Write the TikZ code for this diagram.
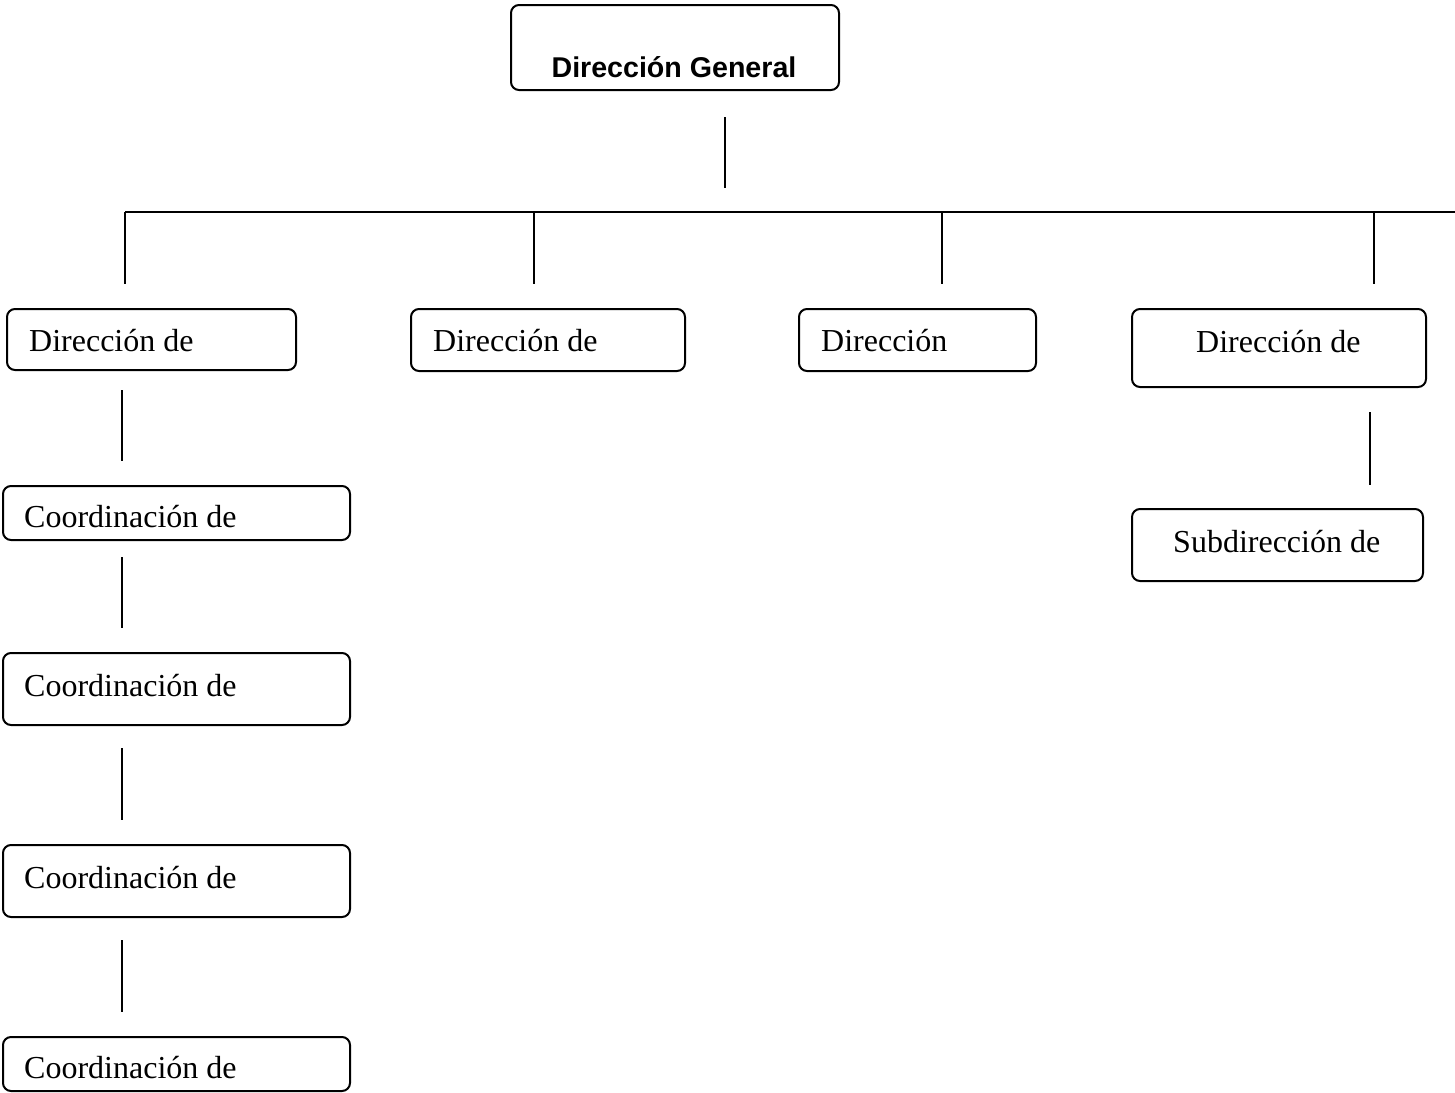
\documentclass[tikz,border=0pt]{standalone}
\usepackage{fontspec}
\setmainfont{Liberation Serif}
\newfontfamily\arialf{Liberation Sans}
\tikzset{
  orgbox/.style={draw, line width=2pt, rounded corners=8pt, inner sep=0pt, anchor=north west},
  lbl/.style={anchor=base west, inner sep=0pt, font=\fontsize{32}{36}\selectfont},
  conn/.style={line width=2pt},
}
\begin{document}
\begin{tikzpicture}[x=1pt,y=-1pt]
\useasboundingbox (0,0) rectangle (1455,1092);
% top box
\node[orgbox, minimum width=328pt, minimum height=85pt] (dg) at (510,4) {};
\node[anchor=base, inner sep=0pt, font=\arialf\bfseries\fontsize{28.6}{32}\selectfont] (dgt) at (674,77) {Dirección General};
% directions
\node[orgbox, minimum width=289pt, minimum height=61pt] (d1) at (6,308) {};
\node[lbl] (d1t) at (29,351) {Dirección de};
\node[orgbox, minimum width=274pt, minimum height=62pt] (d2) at (410,308) {};
\node[lbl] (d2t) at (433,351) {Dirección de};
\node[orgbox, minimum width=237pt, minimum height=62pt] (d3) at (798,308) {};
\node[lbl] (d3t) at (821,351) {Dirección};
\node[orgbox, minimum width=294pt, minimum height=78pt] (d4) at (1131,308) {};
\node[lbl] (d4t) at (1196,352) {Dirección de};
% sub
\node[orgbox, minimum width=291pt, minimum height=72pt] (s1) at (1131,508) {};
\node[lbl] (s1t) at (1173,552) {Subdirección de};
% coordinations
\node[orgbox, minimum width=347pt, minimum height=54pt] (c1) at (2,485) {};
\node[lbl] (c1t) at (24,527) {Coordinación de};
\node[orgbox, minimum width=347pt, minimum height=72pt] (c2) at (2,652) {};
\node[lbl] (c2t) at (24,696) {Coordinación de};
\node[orgbox, minimum width=347pt, minimum height=72pt] (c3) at (2,844) {};
\node[lbl] (c3t) at (24,888) {Coordinación de};
\node[orgbox, minimum width=347pt, minimum height=54pt] (c4) at (2,1036) {};
\node[lbl] (c4t) at (24,1078) {Coordinación de};
% connector coordinates
\coordinate (t1) at (725,117); \coordinate (t2) at (725,188);
\coordinate (hl) at (125,212); \coordinate (hr) at (1455,212);
\coordinate (a1) at (125,212); \coordinate (a1b) at (125,284);
\coordinate (a2) at (534,212); \coordinate (a2b) at (534,284);
\coordinate (a3) at (942,212); \coordinate (a3b) at (942,284);
\coordinate (a4) at (1374,212); \coordinate (a4b) at (1374,284);
\coordinate (p1) at (1370,412); \coordinate (p2) at (1370,485);
\coordinate (l1) at (122,390); \coordinate (l1b) at (122,461);
\coordinate (l2) at (122,557); \coordinate (l2b) at (122,628);
\coordinate (l3) at (122,748); \coordinate (l3b) at (122,820);
\coordinate (l4) at (122,940); \coordinate (l4b) at (122,1012);
\draw[conn] (t1) -- (t2);
\draw[conn] (hl) -- (hr);
\draw[conn] (a1) -- (a1b);
\draw[conn] (a2) -- (a2b);
\draw[conn] (a3) -- (a3b);
\draw[conn] (a4) -- (a4b);
\draw[conn] (p1) -- (p2);
\draw[conn] (l1) -- (l1b);
\draw[conn] (l2) -- (l2b);
\draw[conn] (l3) -- (l3b);
\draw[conn] (l4) -- (l4b);
\end{tikzpicture}
\end{document}
